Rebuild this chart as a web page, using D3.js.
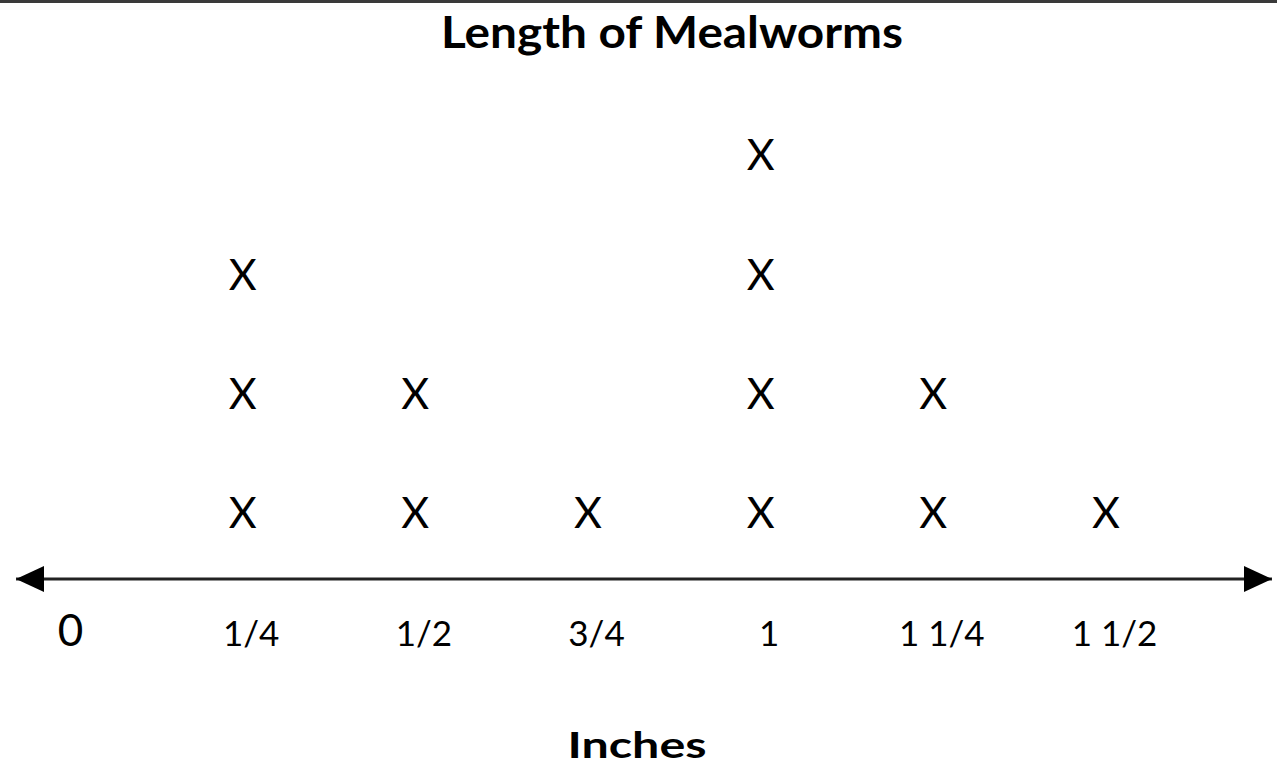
<!DOCTYPE html>
<html>
<head>
<meta charset="utf-8">
<script src="https://cdn.jsdelivr.net/npm/d3@7"></script>
<style>
  body { margin: 0; background: #fff; }
  text { font-family: Lato, "Open Sans", sans-serif; fill: #000; }
</style>
</head>
<body>
<script>
// Lengths of the mealworms (inches), one entry per X
var lengths = [0.25, 0.25, 0.25, 0.5, 0.5, 0.75, 1, 1, 1, 1, 1.25, 1.25, 1.5];
var tickValues = [0, 0.25, 0.5, 0.75, 1, 1.25, 1.5];
var tickLabels = ["0", "1/4", "1/2", "3/4", "1", "1 1/4", "1 1/2"];
var title = "Length of Mealworms";
var axisTitle = "Inches";

var width = 1277, height = 782;

var svg = d3.select("body").append("svg")
  .attr("width", width)
  .attr("height", height);

// bordo grigio in alto
svg.append("rect")
  .attr("x", 0).attr("y", 0)
  .attr("width", width).attr("height", 3)
  .attr("fill", "#3a3a3a");

var x = d3.scaleLinear().domain([0, 1.5]).range([70, 1106]);
// stack level -> y
var y = d3.scaleLinear().domain([1, 4]).range([513, 155]);

// frecce dell'asse
var defs = svg.append("defs");
defs.append("marker")
  .attr("id", "arrow")
  .attr("viewBox", "0 0 28 26")
  .attr("refX", 28).attr("refY", 13)
  .attr("markerWidth", 28).attr("markerHeight", 26)
  .attr("markerUnits", "userSpaceOnUse")
  .attr("orient", "auto-start-reverse")
  .append("path")
  .attr("d", "M0,0 L28,13 L0,26 Z")
  .attr("fill", "#000");

var axisY = 579;
svg.append("line")
  .attr("x1", 16).attr("x2", 1272)
  .attr("y1", axisY).attr("y2", axisY)
  .attr("stroke", "#222")
  .attr("stroke-width", 3)
  .attr("marker-start", "url(#arrow)")
  .attr("marker-end", "url(#arrow)");

// etichette dell'asse
var axis = d3.axisBottom(x)
  .tickValues(tickValues)
  .tickSize(0)
  .tickPadding(0)
  .tickFormat(function (d, i) { return tickLabels[i]; });

var gAxis = svg.append("g")
  .attr("transform", "translate(0,646)")
  .call(axis);
gAxis.select(".domain").remove();
gAxis.selectAll("text")
  .attr("dy", 0)
  .attr("y", 0)
  .attr("dx", function (d) { return d === 0 ? 0 : 8; })
  .style("font-family", "Lato, 'Open Sans', sans-serif")
  .style("font-size", function (d) { return d === 0 ? "44px" : "35px"; })
  .attr("fill", "#000");

// calcolo del livello di ogni X
var counts = {};
var points = lengths.map(function (v) {
  counts[v] = (counts[v] || 0) + 1;
  return { value: v, level: counts[v] };
});

svg.selectAll("text.mark")
  .data(points)
  .enter()
  .append("text")
  .attr("class", "mark")
  .attr("x", function (d) { return x(d.value); })
  .attr("y", function (d) { return y(d.level); })
  .attr("dy", "0.36em")
  .attr("text-anchor", "middle")
  .style("font-size", "43px")
  .text("X");

// titoli
svg.append("text")
  .attr("x", 672).attr("y", 48)
  .attr("text-anchor", "middle")
  .attr("textLength", 462)
  .attr("lengthAdjust", "spacingAndGlyphs")
  .style("font-size", "44px")
  .style("font-weight", "bold")
  .text(title);

svg.append("text")
  .attr("x", 637).attr("y", 758)
  .attr("text-anchor", "middle")
  .attr("textLength", 139)
  .attr("lengthAdjust", "spacingAndGlyphs")
  .style("font-size", "36px")
  .style("font-weight", "bold")
  .text(axisTitle);
</script>
</body>
</html>
